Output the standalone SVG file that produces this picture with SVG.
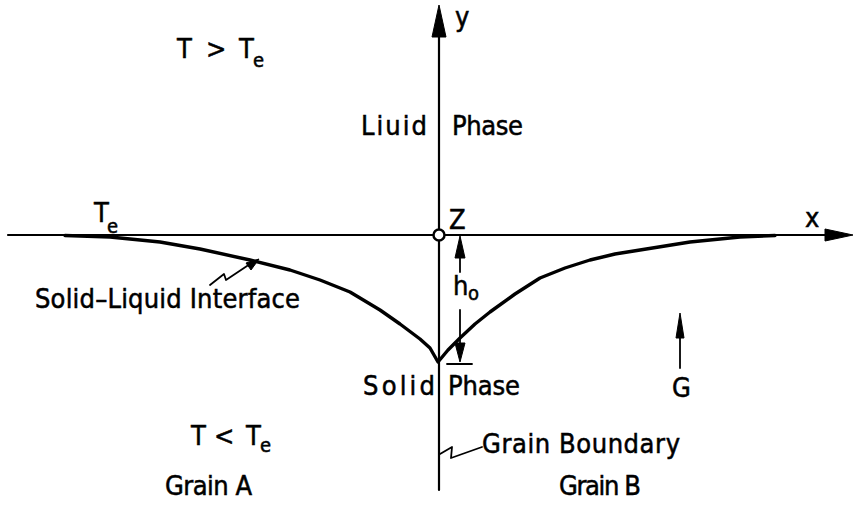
<svg xmlns="http://www.w3.org/2000/svg" width="854" height="506" viewBox="0 0 854 506">
<style>
.ln{fill:none;stroke:#000;stroke-width:2.2;stroke-linecap:round}
.thin{fill:none;stroke:#000;stroke-width:1.8;stroke-linecap:round;stroke-linejoin:round}
.crv{fill:none;stroke:#000;stroke-width:3.4;stroke-linejoin:round;stroke-linecap:round}
.ah{fill:#000;stroke:#000;stroke-width:1}
text{font-family:"DejaVu Sans Condensed","DejaVu Sans","Liberation Sans",sans-serif;fill:#000;stroke:#000;stroke-width:0.5;font-size:27px}
.sub{font-size:20px}
</style>
<rect width="854" height="506" fill="#fff"/>
<g id="axes">
  <line class="ln" x1="8" y1="235" x2="830" y2="235"/>
  <polygon class="ah" points="853,235 825,229 825,241"/>
  <line class="ln" x1="439" y1="30" x2="439" y2="490"/>
  <polygon class="ah" points="439,5 432,37 446,37"/>
  <circle cx="439" cy="235" r="5.5" fill="#fff" stroke="#000" stroke-width="2.5"/>
</g>
<g id="interface">
  <polyline class="crv" points="65,235.5 110,237 160,242 200,249 250,260 290,270 320,280 350,292 380,310 400,324 420,339 430,348 438,362 448,350 460,338 475,324 490,312 515,294 540,278 565,268 590,260 615,254 640,250 665,246 690,242 740,237 775,235.5"/>
</g>
<g id="dimension-h0">
  <line class="thin" x1="460" y1="250" x2="460" y2="272"/>
  <polygon class="ah" points="460,236 455,258 465,258"/>
  <line class="thin" x1="460" y1="310" x2="460" y2="345"/>
  <polygon class="ah" points="460,362 455,343 465,343"/>
  <line class="thin" x1="447" y1="364" x2="472" y2="364"/>
</g>
<g id="gradient-G">
  <line class="thin" x1="680" y1="333" x2="680" y2="368"/>
  <polygon class="ah" points="680,313 676,338 684,338"/>
</g>
<g id="connectors">
  <polyline class="thin" points="210,285 224,274 226,280 250,264"/>
  <polygon class="ah" points="259,259 246,263 251,270"/>
  <polyline class="thin" points="440,454 452,447 451,458 482,447"/>
</g>
<g id="labels">
  <text x="455" y="26" font-size="24">y</text>
  <text x="805" y="227">x</text>
  <text x="449" y="229" font-size="22">Z</text>
  <text x="453" y="295">h</text>
  <text x="468" y="300" class="sub">o</text>

  <text x="177" y="58">T</text>
  <text x="206" y="58">&gt;</text>
  <text x="239" y="58">T</text>
  <text x="253" y="67" class="sub">e</text>

  <text x="361" y="135" textLength="66" lengthAdjust="spacing">Liuid</text>
  <text x="452" y="135" textLength="71" lengthAdjust="spacing">Phase</text>

  <text x="94" y="222" font-size="24">T</text>
  <text x="107" y="233" class="sub">e</text>

  <text x="35" y="308" textLength="265" lengthAdjust="spacing">Solid–Liquid Interface</text>

  <text x="363" y="395" textLength="72" lengthAdjust="spacing">Solid</text>
  <text x="448" y="395" textLength="72" lengthAdjust="spacing">Phase</text>
  <text x="672" y="397">G</text>

  <text x="191" y="445">T</text>
  <text x="214" y="445">&lt;</text>
  <text x="246" y="445">T</text>
  <text x="260" y="452" class="sub">e</text>

  <text x="482" y="453" textLength="198" lengthAdjust="spacing">Grain Boundary</text>
  <text x="165" y="495" font-size="26" textLength="87" lengthAdjust="spacing">Grain A</text>
  <text x="559" y="495" font-size="26" textLength="82" lengthAdjust="spacing">Grain B</text>
</g>
</svg>
